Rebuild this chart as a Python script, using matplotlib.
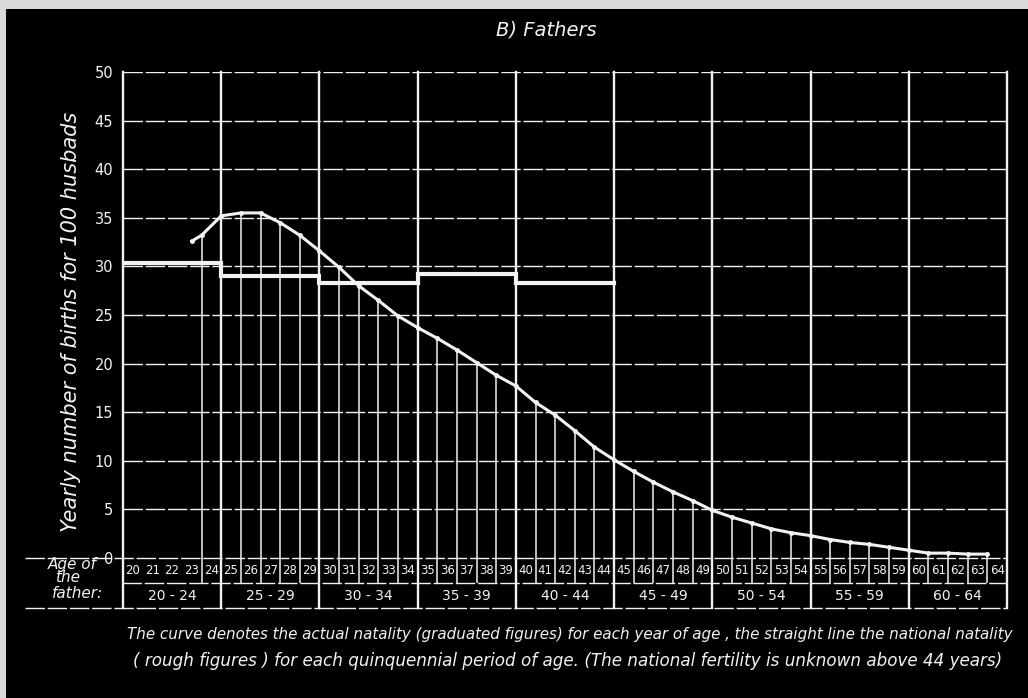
import matplotlib.pyplot as plt
import matplotlib.transforms as mtransforms
from matplotlib.lines import Line2D
from matplotlib.patches import Rectangle

# values (births per 100 husbands)
ages = list(range(24, 65))
natality = [33.2, 35.2, 35.5, 35.5, 34.5, 33.2, 31.6, 29.9, 28.0, 26.5,
            24.9, 23.7, 22.6, 21.4, 20.1, 18.8, 17.7, 16.0, 14.7, 13.1,
            11.4, 10.1, 8.9, 7.8, 6.8, 5.9, 4.9, 4.2, 3.6, 3.0,
            2.6, 2.3, 1.9, 1.6, 1.4, 1.1, 0.8, 0.5, 0.5, 0.4, 0.4]
curve_start = (23.5, 32.6)

groups = ['20 - 24', '25 - 29', '30 - 34', '35 - 39', '40 - 44',
          '45 - 49', '50 - 54', '55 - 59', '60 - 64']
group_start = [20, 25, 30, 35, 40, 45, 50, 55, 60]
rough = [30.4, 29.0, 28.3, 29.2, 28.3]   # only known up to 44

title = 'B) Fathers'
ylabel = 'Yearly number of births for 100 husbads'
note1 = ('The curve denotes the actual natality (graduated figures) for each year of age , '
         'the straight line the national natality')
note2 = ('( rough figures ) for each quinquennial period of age. '
         '(The national fertility is unknown above 44 years)')

fg = '#f2f2f2'

W, H = 1028, 698
fig = plt.figure(figsize=(W / 100, H / 100), dpi=100, facecolor='#d9d9d9')
fig.add_artist(Rectangle((6 / W, 0), 1, 1 - 9 / H, transform=fig.transFigure,
                         facecolor='black', edgecolor='none', zorder=-10))

x0, x1, y0, y1 = 123, 1007, 558, 72
ax = fig.add_axes([x0 / W, 1 - y0 / H, (x1 - x0) / W, (y0 - y1) / H])
ax.set_facecolor('black')
ax.set_xlim(20, 65)
ax.set_ylim(0, 50)
for s in ax.spines.values():
    s.set_visible(False)
ax.set_xticks([])
ax.set_yticks(range(0, 51, 5))
ax.tick_params(axis='y', length=0, pad=7, colors=fg, labelsize=10.5)

ax.set_ylabel(ylabel, color=fg, fontsize=15, style='italic')
ax.yaxis.set_label_coords(-0.047, 0.485)

# grid
row1 = -25 / (y0 - y1)
row2 = -50 / (y0 - y1)
for y in range(5, 51, 5):
    ax.axhline(y, color=fg, lw=1.0, ls=(0, (14, 2)), zorder=1)
for x in range(20, 66, 5):
    ax.axvline(x, ymin=row2, ymax=1, color=fg, lw=1.7, clip_on=False, zorder=2)

# drop lines from the curve to the base, and the age-row cell separators
bt = mtransforms.blended_transform_factory(ax.transData, ax.transAxes)
ax.vlines(ages, 0, natality, color=fg, lw=1.1, zorder=2)
ax.vlines(ages, row1, 0, color=fg, lw=1.1, zorder=2, transform=bt, clip_on=False)

# curve
cx = [curve_start[0]] + ages
cy = [curve_start[1]] + natality
ax.plot(cx, cy, color=fg, lw=2.2, marker='o', ms=2.5, zorder=4)

# quinquennial step line
sx, sy = [], []
for g, v in zip(group_start, rough):
    sx += [g, g + 5]
    sy += [v, v]
ax.plot(sx, sy, color=fg, lw=3.0, solid_joinstyle='miter', zorder=3)

# table below the axis
tf = fig.transFigure
for yy, xa in [(558, 25), (583, 122), (608, 25)]:
    fig.add_artist(Line2D([xa / W, x1 / W], [1 - yy / H] * 2, color=fg, lw=1.0,
                          ls=(0, (14, 2)), transform=tf))

for a in range(20, 65):
    ax.text(a + 0.5, row1 / 2, str(a), transform=bt, ha='center', va='center',
            color=fg, fontsize=8.5, clip_on=False)
for g, lab in zip(group_start, groups):
    ax.text(g + 2.5, (row1 + row2) / 2, lab, transform=bt, ha='center', va='center',
            color=fg, fontsize=10, clip_on=False)

fig.text(72 / W, 1 - 564 / H, 'Age of', color=fg, fontsize=11, style='italic',
         ha='center', va='center')
fig.text(68 / W, 1 - 578 / H, 'the', color=fg, fontsize=11, style='italic',
         ha='center', va='center')
fig.text(78 / W, 1 - 594 / H, 'father:', color=fg, fontsize=11, style='italic',
         ha='center', va='center')

fig.text(546 / W, 1 - 30 / H, title, color=fg, fontsize=14, style='italic',
         ha='center', va='center')

# caption: shrink the font until each line fits its width in the reference
r = fig.canvas.get_renderer()
for txt, xl, xr, yy in [(note1, 128, 1012, 635), (note2, 135, 1000, 661)]:
    t = fig.text((xl + xr) / 2 / W, 1 - yy / H, txt, color=fg, fontsize=12,
                 style='italic', ha='center', va='center')
    w = t.get_window_extent(renderer=r).width
    t.set_fontsize(12 * (xr - xl) / w)

fig.savefig('out.png', dpi=100, facecolor=fig.get_facecolor())
